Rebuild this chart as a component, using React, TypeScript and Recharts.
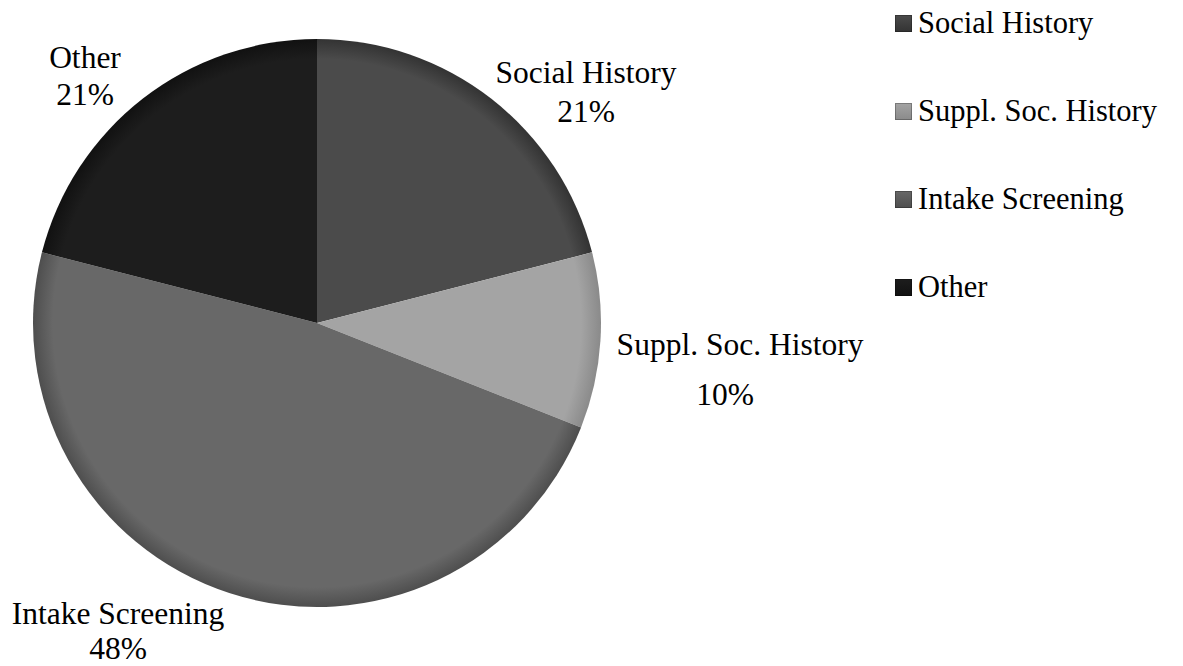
import { PieChart, Pie, Cell, Legend } from "recharts";

const CATEGORIES = ["Social History", "Suppl. Soc. History", "Intake Screening", "Other"];
const SHARES = [21, 10, 48, 21];
const COLORS = ["#4b4b4b", "#a4a4a4", "#686868", "#1d1d1d"];
const EDGE_COLORS = ["#333333", "#8a8a8a", "#4e4e4e", "#111111"];

// label placement relative to the pie centre: [dx1, dy1, dx2, dy2] (name line, percent line baselines)
const LABEL_OFFSETS = [
  [269, -240, 269, -201],
  [423, 32, 408, 82],
  [-199, 301, -199, 336],
  [-232, -255, -232, -218],
];

const FONT = "'Liberation Serif', 'Times New Roman', serif";

const data = CATEGORIES.map((name, i) => ({ name, value: SHARES[i] }));

function SliceLabel(props: any) {
  const { cx, cy, index } = props;
  const o = LABEL_OFFSETS[index];
  return (
    <g fontSize={31.5} fill="#000" textAnchor="middle">
      <text x={cx + o[0]} y={cy + o[1]} style={{ fontFamily: FONT }}>{CATEGORIES[index]}</text>
      <text x={cx + o[2]} y={cy + o[3]} style={{ fontFamily: FONT }}>{SHARES[index]}%</text>
    </g>
  );
}

function LegendList() {
  return (
    <div style={{ fontFamily: FONT, fontSize: 30.5, color: "#000", paddingTop: 3 }}>
      {CATEGORIES.map((c, i) => (
        <div key={c} style={{ height: 88, lineHeight: "40px", display: "flex", alignItems: "flex-start" }}>
          <span
            style={{
              width: 17,
              height: 17,
              marginTop: 12,
              marginRight: 6,
              background: `linear-gradient(180deg, ${COLORS[i]} 0%, ${EDGE_COLORS[i]} 100%)`,
              boxShadow: "inset 0 0 0 1px rgba(0,0,0,0.25)",
              display: "inline-block",
              flexShrink: 0,
            }}
          />
          <span style={{ whiteSpace: "nowrap" }}>{c}</span>
        </div>
      ))}
    </div>
  );
}

export default function App() {
  return (
    <div style={{ position: "absolute", left: 0, top: 0, width: 1183, height: 666, background: "#fff" }}>
      <PieChart width={1183} height={666} margin={{ top: 0, right: 0, bottom: 0, left: 0 }}>
        <defs>
          {COLORS.map((c, i) => (
            <radialGradient key={i} id={`slice${i}`} gradientUnits="userSpaceOnUse" cx={317} cy={323} r={284}>
              <stop offset="0%" stopColor={c} />
              <stop offset="93%" stopColor={c} />
              <stop offset="100%" stopColor={EDGE_COLORS[i]} />
            </radialGradient>
          ))}
        </defs>
        <Pie
          data={data}
          dataKey="value"
          nameKey="name"
          cx={317}
          cy={323}
          outerRadius={284}
          startAngle={90}
          endAngle={-270}
          stroke="none"
          label={SliceLabel}
          labelLine={false}
          isAnimationActive={false}
        >
          {data.map((_, i) => (
            <Cell key={i} fill={`url(#slice${i})`} />
          ))}
        </Pie>
        <Legend
          layout="vertical"
          verticalAlign="top"
          align="right"
          content={<LegendList />}
          wrapperStyle={{ position: "absolute", left: 895, top: 0, width: 288 }}
        />
      </PieChart>
    </div>
  );
}
